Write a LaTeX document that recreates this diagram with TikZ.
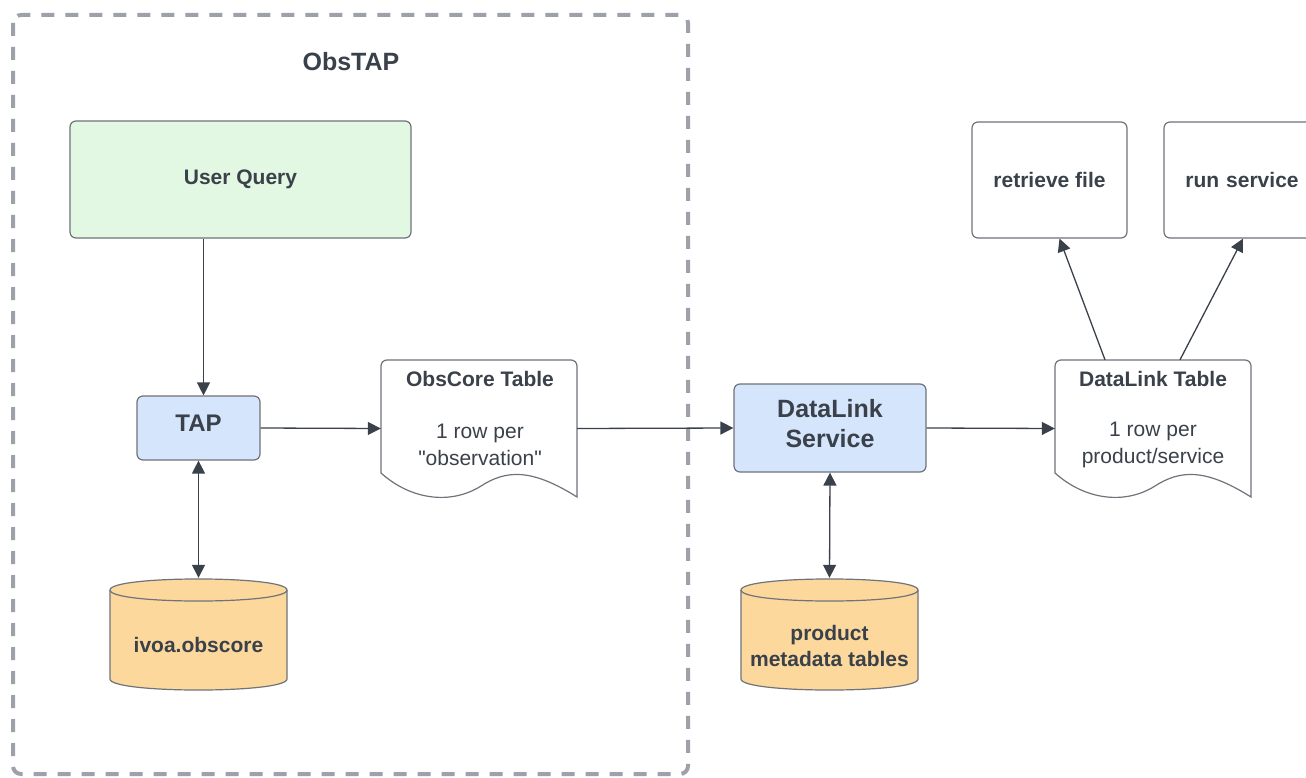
\documentclass[tikz,border=0pt]{standalone}
\usepackage{fontspec}
\setmainfont{Liberation Sans}[Ligatures=TeXOff]
\usetikzlibrary{arrows.meta}
\definecolor{txt}{HTML}{3A414A}
\definecolor{edgegray}{HTML}{6F737A}
\definecolor{dashgray}{HTML}{9DA2AA}
\definecolor{qgreen}{HTML}{E2F8E2}
\definecolor{qblue}{HTML}{D4E5FC}
\definecolor{qorange}{HTML}{FCD89C}
\tikzset{
  box/.style={draw=edgegray, line width=1.2pt, rounded corners=6pt, inner sep=0pt,
    text=txt, font=\fontsize{21}{25}\selectfont\bfseries, align=center},
  bigtxt/.style={text=txt, font=\fontsize{25}{30}\selectfont\bfseries, align=center, inner sep=0pt},
  titletxt/.style={text=txt, font=\fontsize{21}{25}\selectfont\bfseries, align=center, inner sep=0pt},
  bodytxt/.style={text=txt, font=\fontsize{21}{27}\selectfont, align=center, inner sep=0pt},
  holder/.style={inner sep=0pt, draw=none},
  arr/.style={draw=txt, line width=1.3pt, -{Triangle[length=13pt,width=13pt]}},
  darr/.style={draw=txt, line width=1.3pt, {Triangle[length=13pt,width=13pt]}-{Triangle[length=13pt,width=13pt]}},
  shapeline/.style={draw=edgegray, line width=1.2pt},
  docshape/.pic={
    \path[shapeline, fill=white] (0,113) -- (0,6) .. controls (0,2.7) and (2.7,0) .. (6,0)
      -- (190,0) .. controls (193.3,0) and (196,2.7) .. (196,6) -- (196,137)
      .. controls (150,108) and (125,110) .. (100,126)
      .. controls (70,145) and (30,140) .. (0,113) -- cycle;
  },
  cylshape/.pic={
    \path[shapeline, fill=qorange] (0,12) -- (0,101) .. controls (0,115.7) and (177,115.7) .. (177,101)
      -- (177,12) .. controls (177,-2.7) and (0,-2.7) .. (0,12) -- cycle;
    \path[shapeline] (0,12) .. controls (0,26.7) and (177,26.7) .. (177,12);
  }
}
\begin{document}
\begin{tikzpicture}[x=1pt,y=-1pt]
\useasboundingbox[fill=white] (0,0) rectangle (1306,778);
% dashed frame
\draw[dashgray, line width=4pt, dash pattern=on 13pt off 11pt, rounded corners=8pt] (13,15) rectangle (688,774);
\node[bigtxt] (obstap) at (351,62) {ObsTAP};

% boxes
\node[box, fill=qgreen, minimum width=341pt, minimum height=117pt] (uq) at (240.5,179.5) {User Query};
\node[box, fill=qblue, minimum width=123pt, minimum height=64pt] (tap) at (198.5,428) {};
\node[bigtxt, font=\fontsize{24}{28}\selectfont\bfseries] (taptxt) at (198.5,423.5) {TAP};
\node[box, fill=qblue, minimum width=192pt, minimum height=88pt] (dls) at (830,428) {};
\node[bigtxt, font=\fontsize{25}{30}\selectfont\bfseries] (dlstxt) at (830,424) {DataLink\\Service};
\node[box, fill=white, minimum width=155pt, minimum height=116pt] (rf) at (1049.5,180) {retrieve file};
\node[box, fill=white, minimum width=156pt, minimum height=116pt, text width=156pt] (rs) at (1242,180) {run service};

% documents
\pic at (381,360) {docshape};
\node[holder, minimum width=196pt, minimum height=137pt] (oc) at (479,428.5) {};
\node[titletxt] (octitle) at (480,379) {ObsCore Table};
\node[bodytxt] (ocbody) at (480,444.5) {1 row per\\"observation"};

\pic at (1055,360) {docshape};
\node[holder, minimum width=196pt, minimum height=137pt] (dlt) at (1153,428.5) {};
\node[titletxt] (dlttitle) at (1153,379) {DataLink Table};
\node[bodytxt] (dltbody) at (1153,444.5) {1 row per\\product/service};

% cylinders
\pic at (110,578) {cylshape};
\node[holder, minimum width=177pt, minimum height=112pt] (ivoa) at (198.5,634) {};
\node[titletxt] (ivoatxt) at (198.5,645) {ivoa.obscore};

\pic at (741,578) {cylshape};
\node[holder, minimum width=177pt, minimum height=112pt] (pmt) at (829.5,634) {};
\node[titletxt, font=\fontsize{21}{26}\selectfont\bfseries] (pmttxt) at (829.5,646) {product\\metadata tables};

% connectors
\draw[arr] ([xshift=5pt]tap.north |- uq.south) -- ([xshift=5pt]tap.north);
\draw[darr] (tap.south) -- (ivoa.north);
\draw[arr] (tap.east) -- (oc.west);
\draw[arr] (oc.east) -- (dls.west);
\draw[darr] (dls.south) -- (pmt.north);
\draw[arr] (dls.east) -- (dlt.west);
\coordinate (dltA) at ([xshift=-48pt]dlt.north);
\coordinate (dltB) at ([xshift=27pt]dlt.north);
\draw[arr] (dltA) -- ([xshift=10pt]rf.south);
\draw[arr] (dltB) -- ([xshift=1pt]rs.south);
\end{tikzpicture}
\end{document}
